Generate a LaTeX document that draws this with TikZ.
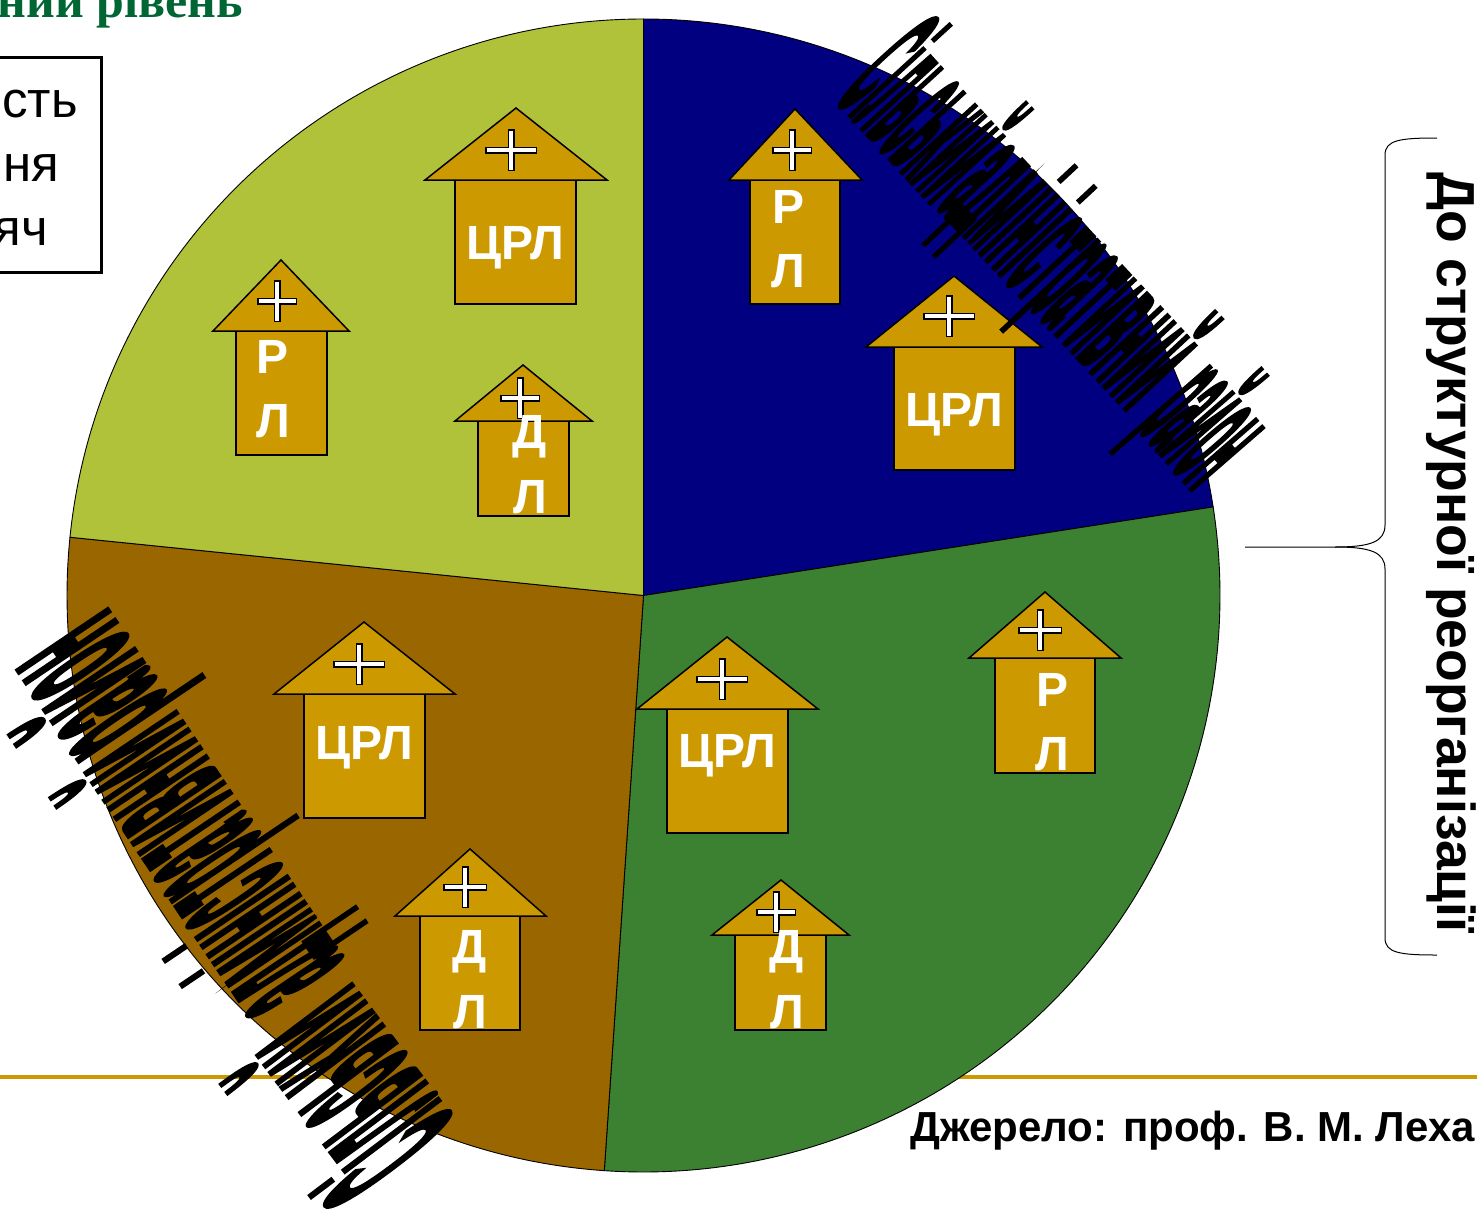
\documentclass[tikz,border=0pt]{standalone}
\usepackage{fontspec}
\usepackage{graphicx}
\setmainfont{Liberation Sans}
\newfontfamily\artfont[FakeBold=4]{Liberation Sans Bold}
\newfontfamily\boldf{Liberation Sans Bold}
\newfontfamily\serifb{Liberation Serif Bold}
\definecolor{gold}{HTML}{CC9900}
\definecolor{olivepie}{HTML}{B0C13A}
\definecolor{navypie}{HTML}{000080}
\definecolor{greenpie}{HTML}{3C8032}
\definecolor{brownpie}{HTML}{996600}
\definecolor{titlegreen}{HTML}{006633}
\tikzset{
  sector/.style={draw=black,line width=.9pt},
  housepart/.style={fill=gold,draw=black,line width=1.5pt,line join=miter},
  hlabel/.style={text=white,inner sep=0pt,font=\boldf\fontsize{48}{48}\selectfont},
  art/.style={inner sep=0pt,anchor=base west,text=black},
  bracepath/.style={draw=black,line width=1pt},
  boxtext/.style={anchor=base east,inner sep=0pt,font=\fontsize{51}{51}\selectfont},
}
% name, apex x, apex y, base y, left, right, box left, box right, box bottom
\newcommand\househ[9]{%
  \draw[housepart] (#7,#4) rectangle (#8,#9);
  \draw[housepart] (#2,#3) -- (#5,#4) -- (#6,#4) -- cycle;
}
% cx, cy, half width
\newcommand\crossmark[3]{%
  \draw[line width=7pt,black] (#1-#3,#2) -- (#1+#3,#2);
  \draw[line width=7pt,black] (#1,#2-21) -- (#1,#2+21);
  \draw[line width=4pt,white] (#1-#3+1.5,#2) -- (#1+#3-1.5,#2);
  \draw[line width=4pt,white] (#1,#2-19.5) -- (#1,#2+19.5);
}
\newcommand\wa[3]{\resizebox{#2pt}{#3pt}{\artfont #1}}
\begin{document}
\begin{tikzpicture}[x=1pt,y=-1pt]
\useasboundingbox (0,0) rectangle (1477,1215);
\fill[white] (0,0) rectangle (1477,1215);
% footer rule
\draw[gold,line width=4pt] (0,1077) -- (1477,1077);
% title and box
\node[anchor=base east,inner sep=0pt,text=titlegreen,font=\serifb\fontsize{50}{50}\selectfont] (title) at (243,18) {ний рівень};
\draw[line width=3pt] (-10,57.5) -- (101,57.5) -- (101,272) -- (-10,272);
\node[boxtext] (b1) at (78,117) {сть};
\node[boxtext] (b2) at (59,181) {ня};
\node[boxtext] (b3) at (48,245) {яч};
% pie
\coordinate (c) at (643.5,595.5);
\draw[sector,fill=navypie] (c) -- ++(270:576.5) arc[start angle=270,end angle=351.16,radius=576.5] -- cycle;
\draw[sector,fill=greenpie] (c) -- ++(-8.84:576.5) arc[start angle=-8.84,end angle=93.9,radius=576.5] -- cycle;
\draw[sector,fill=brownpie] (c) -- ++(93.9:576.5) arc[start angle=93.9,end angle=185.8,radius=576.5] -- cycle;
\draw[sector,fill=olivepie] (c) -- ++(185.8:576.5) arc[start angle=185.8,end angle=270,radius=576.5] -- cycle;
% houses
\househ{a}{516}{108}{180}{425}{607}{455}{576}{304}
\crossmark{511}{150}{26}
\node[hlabel] (a1) at (515,248) {ЦРЛ};
\househ{b}{281}{260}{331}{213}{349}{236}{327}{455}
\crossmark{277}{301}{20}
\node[hlabel] (b4) at (273,357) {Р};
\node[hlabel] (b5) at (273,421) {Л};
\househ{c}{523}{365}{421}{455}{592}{478}{569}{516}
\crossmark{520}{398}{20}
\node[hlabel] (c1) at (530,437) {Д};
\node[hlabel] (c2) at (530,497) {Л};
\househ{d}{795}{109}{180}{729}{862}{750}{840}{304}
\crossmark{792}{150}{20}
\node[hlabel] (d1) at (788,207) {Р};
\node[hlabel] (d2) at (788,271) {Л};
\househ{e}{954}{276}{347}{866}{1042}{894}{1015}{470}
\crossmark{949}{316}{26}
\node[hlabel] (e1) at (954,415) {ЦРЛ};
\househ{f}{364}{622}{694}{274}{455}{304}{425}{818}
\crossmark{359}{664}{26}
\node[hlabel] (f1) at (364,748) {ЦРЛ};
\househ{g}{470}{849}{916}{395}{546}{420}{520}{1030}
\crossmark{465}{887}{22}
\node[hlabel] (g1) at (470,952) {Д};
\node[hlabel] (g2) at (470,1012) {Л};
\househ{h}{727}{637}{709}{637}{818}{667}{788}{833}
\crossmark{722}{679}{26}
\node[hlabel] (h1) at (727,756) {ЦРЛ};
\househ{i}{1045}{592}{658}{969}{1121}{995}{1095}{773}
\crossmark{1040}{630}{22}
\node[hlabel] (i1) at (1052,690) {Р};
\node[hlabel] (i2) at (1052,754) {Л};
\househ{j}{781}{880}{935}{712}{849}{735}{826}{1030}
\crossmark{776}{912}{20}
\node[hlabel] (j1) at (787,952) {Д};
\node[hlabel] (j2) at (787,1012) {Л};
% warped labels, upper right
\node[art,rotate=-47.5] (u1) at (835,97) {\wa{Сільський}{146}{135}};
\node[art,rotate=-47] (u2) at (937,205) {\wa{адміністративний}{282}{129}};
\node[art,rotate=-49] (u3) at (1137,425) {\wa{район}{88}{129}};
% warped labels, lower left
\node[art,rotate=127] (l1) at (455,1125) {\wa{Сільський}{178}{160}};
\node[art,rotate=124] (l2) at (343,963) {\wa{адміністративний}{305}{148}};
\node[art,rotate=124] (l3) at (170,705) {\wa{район}{118}{148}};
% brace
\draw[bracepath] (1437,138) .. controls (1400,138) and (1385,140) .. (1385,155)
  -- (1385,525) .. controls (1385,542) and (1370,547) .. (1335,547)
  -- (1245,547);
\draw[bracepath] (1335,547) .. controls (1370,547) and (1385,552) .. (1385,569)
  -- (1385,938) .. controls (1385,953) and (1400,955) .. (1437,955);
% side label
\node[anchor=base west,rotate=-90,inner sep=0pt,font=\boldf\fontsize{53.5}{53.5}\selectfont] (side) at (1437,172) {До структурної реорганізації};
% source
\node[anchor=base east,inner sep=0pt,font=\boldf\fontsize{42}{42}\selectfont] (src) at (1475,1141) {Джерело: проф. В. М. Леха};
\end{tikzpicture}
\end{document}
